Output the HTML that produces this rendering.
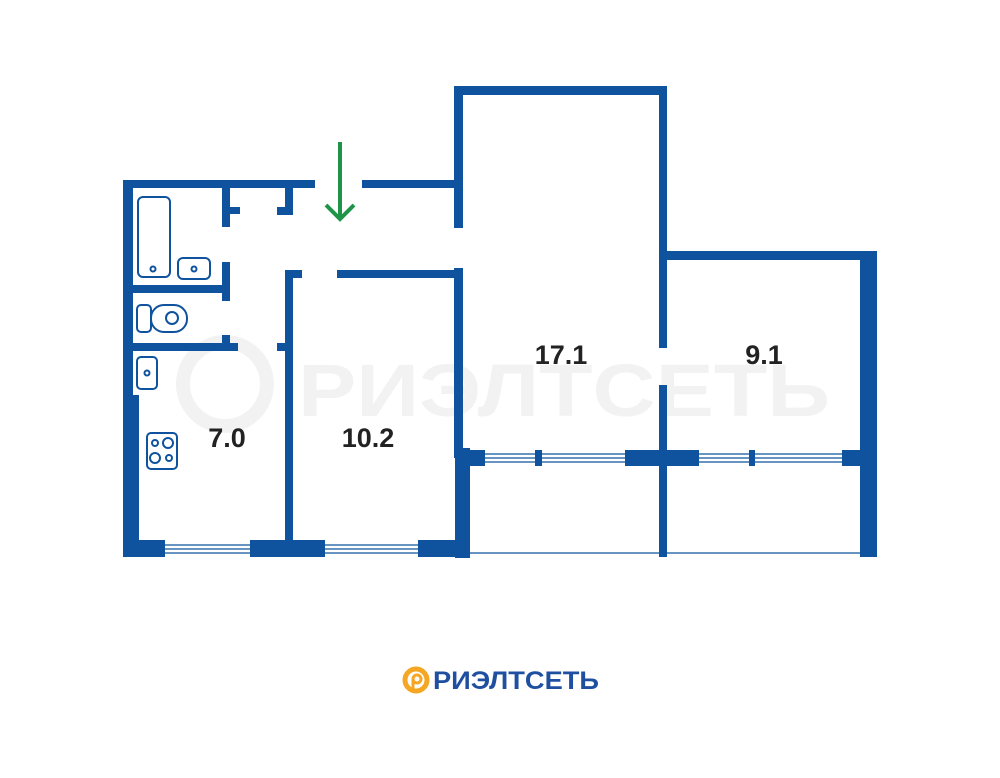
<!DOCTYPE html>
<html><head><meta charset="utf-8"><style>
html,body{margin:0;padding:0;background:#fff;}
svg{display:block}
</style></head><body>
<svg width="1000" height="778" viewBox="0 0 1000 778" xmlns="http://www.w3.org/2000/svg">
<text x="298" y="416" font-family="Liberation Sans, DejaVu Sans, sans-serif" font-weight="bold" font-size="74" fill="#f2f2f2" textLength="532" lengthAdjust="spacingAndGlyphs">РИЭЛТСЕТЬ</text>
<circle cx="225" cy="384" r="42" fill="none" stroke="#f2f2f2" stroke-width="14"/>
<g fill="#0f539e">
<rect x="454" y="86" width="213" height="9"/>
<rect x="454" y="86" width="9" height="142"/>
<rect x="454" y="268" width="9" height="190"/>
<rect x="455" y="448" width="15" height="110"/>
<rect x="659" y="86" width="8" height="262"/>
<rect x="659" y="385" width="8" height="172"/>
<rect x="659" y="251" width="218" height="9"/>
<rect x="860" y="251" width="17" height="306"/>
<rect x="455" y="450" width="30" height="16"/>
<rect x="535" y="450" width="7" height="16"/>
<rect x="625" y="450" width="74" height="16"/>
<rect x="749" y="450" width="6" height="16"/>
<rect x="842" y="450" width="26" height="16"/>
<rect x="123" y="180" width="192" height="8"/>
<rect x="362" y="180" width="100" height="8"/>
<rect x="123" y="180" width="10" height="377"/>
<rect x="123" y="395" width="16" height="162"/>
<rect x="123" y="540" width="42" height="17"/>
<rect x="250" y="540" width="75" height="17"/>
<rect x="418" y="540" width="52" height="17"/>
<rect x="285" y="270" width="8" height="280"/>
<rect x="285" y="270" width="17" height="8"/>
<rect x="337" y="270" width="125" height="8"/>
<rect x="277" y="343" width="10" height="8"/>
<rect x="222" y="180" width="8" height="47"/>
<rect x="222" y="207" width="18" height="7"/>
<rect x="285" y="180" width="8" height="35"/>
<rect x="277" y="207" width="16" height="8"/>
<rect x="222" y="262" width="8" height="39"/>
<rect x="123" y="285" width="107" height="8"/>
<rect x="123" y="343" width="115" height="8"/>
<rect x="222" y="335" width="8" height="12"/>
</g>
<g stroke="#0f539e" stroke-width="1.2" fill="none">
<line x1="165" y1="545" x2="250" y2="545"/><line x1="165" y1="549" x2="250" y2="549"/><line x1="165" y1="553" x2="250" y2="553"/>
<line x1="325" y1="545" x2="418" y2="545"/><line x1="325" y1="549" x2="418" y2="549"/><line x1="325" y1="553" x2="418" y2="553"/>
<line x1="485" y1="454" x2="625" y2="454"/><line x1="485" y1="458" x2="625" y2="458"/><line x1="485" y1="462" x2="625" y2="462"/>
<line x1="699" y1="454" x2="842" y2="454"/><line x1="699" y1="458" x2="842" y2="458"/><line x1="699" y1="462" x2="842" y2="462"/>
<line x1="470" y1="553" x2="860" y2="553"/>
</g>
<g stroke="#0f539e" stroke-width="2" fill="none">
<rect x="138" y="197" width="32" height="80" rx="5"/>
<circle cx="153" cy="269" r="2.5"/>
<rect x="178" y="258" width="32" height="21" rx="5"/>
<circle cx="194" cy="269" r="2.5"/>
<rect x="137" y="305" width="14" height="27" rx="4"/>
<rect x="151" y="305" width="36" height="27" rx="13"/>
<circle cx="172" cy="318" r="6"/>
<rect x="137" y="357" width="20" height="32" rx="4"/>
<circle cx="147" cy="373" r="2.5"/>
<rect x="147" y="433" width="30" height="36" rx="4"/>
<circle cx="155" cy="443" r="3"/><circle cx="168" cy="443" r="5"/>
<circle cx="155" cy="458" r="5"/><circle cx="169" cy="458" r="3"/>
</g>
<g stroke="#1d9448" stroke-width="4" fill="none">
<line x1="340" y1="142" x2="340" y2="218"/>
<polyline points="326,205 340,219 354,205"/>
</g>
<g font-family="Liberation Sans, DejaVu Sans, sans-serif" font-size="27" fill="#222" text-anchor="middle" font-weight="bold">
<text x="227" y="447">7.0</text>
<text x="368" y="447">10.2</text>
<text x="561" y="364">17.1</text>
<text x="764" y="364">9.1</text>
</g>
<circle cx="416" cy="680" r="11" fill="none" stroke="#f5a623" stroke-width="5"/>
<circle cx="417" cy="679" r="4" fill="none" stroke="#f5a623" stroke-width="3"/>
<line x1="413" y1="679" x2="413" y2="690" stroke="#f5a623" stroke-width="3"/>
<text x="433" y="689" font-family="Liberation Sans, DejaVu Sans, sans-serif" font-weight="bold" font-size="25" fill="#1f4fa0" textLength="166" lengthAdjust="spacingAndGlyphs">РИЭЛТСЕТЬ</text>
</svg>
</body></html>
